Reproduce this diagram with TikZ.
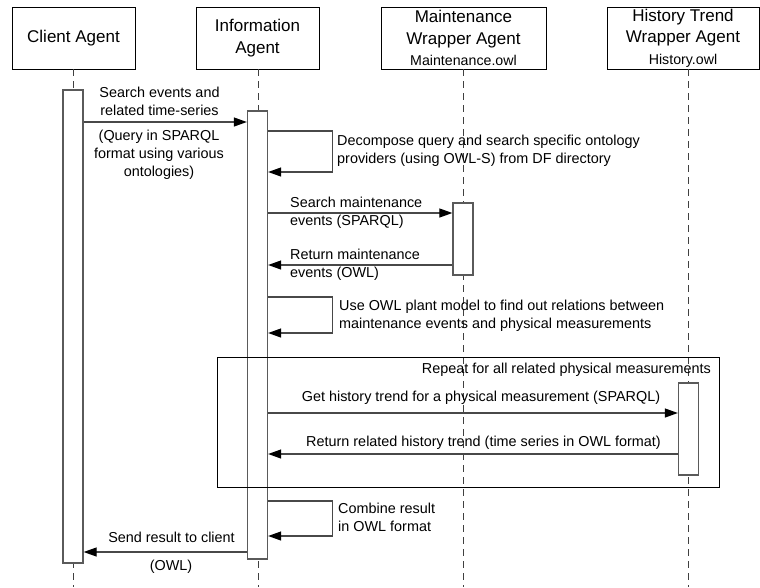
\documentclass[tikz,border=0pt]{standalone}
\usepackage{fontspec}
\setmainfont{Liberation Sans}
\usetikzlibrary{arrows.meta}
\definecolor{barline}{HTML}{5A5A5A}
\definecolor{msgline}{HTML}{484848}
\newcommand{\titlefont}{\fontsize{17}{21.5}\selectfont}
\newcommand{\msgfont}{\fontsize{14.4}{18}\selectfont}
\newcommand{\ontofont}{\fontsize{14.2}{18}\selectfont}
\tikzset{
  actor/.style={draw=black, line width=0.9pt, fill=white, align=center,
    font=\titlefont, inner sep=0pt, minimum height=62pt},
  lifeline/.style={draw=black!75, line width=1pt, dash pattern=on 7pt off 5pt},
  actbar/.style={draw=barline, line width=1.3pt, fill=white, inner sep=0pt,
    minimum width=20pt},
  msg/.style={draw=msgline, line width=1.2pt,
    -{Triangle[length=13pt,width=9pt,color=black]}},
  msgtext/.style={font=\msgfont, inner sep=0pt, text=black},
  loopframe/.style={draw=black, line width=0.9pt, inner sep=0pt},
}
\begin{document}
\begin{tikzpicture}[x=1pt,y=-1pt]
\useasboundingbox (0,0) rectangle (760,587);
\fill[white] (0,0) rectangle (760,587);

% actors
\node[actor, minimum width=123pt] (client) at (73.5,38) {Client Agent};
\node[actor, minimum width=123pt] (info) at (257.5,38) {Information\\Agent};
\node[actor, minimum width=165pt] (maint) at (463.5,38)
  {Maintenance\\Wrapper Agent\\\ontofont Maintenance.owl};
\node[actor, minimum width=152pt] (hist) at (683,38)
  {History Trend\\Wrapper Agent\\\ontofont History.owl};

% lifeline foot points
\coordinate (clientend) at (73,587);
\coordinate (infoend) at (258,587);
\coordinate (maintend) at (463,587);
\coordinate (histtop) at (688,69);
\coordinate (histend) at (688,587);

\draw[lifeline] (client.south -| clientend) -- (clientend);
\draw[lifeline] (info.south -| infoend) -- (infoend);
\draw[lifeline] (maint.south -| maintend) -- (maintend);
\draw[lifeline] (histtop) -- (histend);

% activation bars
\node[actbar, minimum height=473pt] (clientbar) at (73,326.5) {};
\node[actbar, minimum height=448pt] (infobar) at (257.5,335) {};
\node[actbar, minimum height=72pt] (maintbar) at (463,239) {};
\node[actbar, minimum height=92pt] (histbar) at (688.5,429) {};

% combined fragment
\node[loopframe, minimum width=502pt, minimum height=130pt] (loop) at (468,422) {};
\node[msgtext, anchor=east] (looplabel) at (711,370)
  {Repeat for all related physical measurements};

% query from the client
\draw[msg] (clientbar.east |- 0,122) -- (infobar.west |- 0,122);
\node[msgtext, align=center] (q1) at (159.5,101) {Search events and\\related time-series};
\node[msgtext, align=center] (q2) at (159,155)
  {(Query in SPARQL\\format using various\\ontologies)};

% decomposition
\draw[msg] (infobar.east |- 0,131) -- ++(64,0) -- ++(0,41) -- (infobar.east |- 0,172);
\node[msgtext, align=left, anchor=west] (dec) at (337,151)
  {Decompose query and search specific ontology\\providers (using OWL-S) from DF directory};

% maintenance wrapper
\draw[msg] (infobar.east |- 0,213) -- (maintbar.west |- 0,213);
\node[msgtext, align=left, anchor=west] (sm) at (290,213)
  {Search maintenance\\events (SPARQL)};
\draw[msg] (maintbar.west |- 0,265) -- (infobar.east |- 0,265);
\node[msgtext, align=left, anchor=west] (rm) at (290,264.5)
  {Return maintenance\\events (OWL)};

% plant model
\draw[msg] (infobar.east |- 0,297) -- ++(64,0) -- ++(0,36) -- (infobar.east |- 0,333);
\node[msgtext, align=left, anchor=west] (pm) at (339,316)
  {Use OWL plant model to find out relations between\\maintenance events and physical measurements};

% history trend wrapper
\draw[msg] (infobar.east |- 0,413) -- (histbar.west |- 0,413);
\node[msgtext] (gh) at (481,398)
  {Get history trend for a physical measurement (SPARQL)};
\draw[msg] (histbar.west |- 0,454) -- (infobar.east |- 0,454);
\node[msgtext] (rh) at (483.5,443)
  {Return related history trend (time series in OWL format)};

% combine
\draw[msg] (infobar.east |- 0,501) -- ++(64,0) -- ++(0,35) -- (infobar.east |- 0,536);
\node[msgtext, align=left, anchor=west] (cb) at (338,517)
  {Combine result\\in OWL format};

% reply to the client
\draw[msg] (infobar.west |- 0,552) -- (clientbar.east |- 0,552);
\node[msgtext] (sr) at (171.5,537) {Send result to client};
\node[msgtext] (owl) at (171,567) {(OWL)};
\end{tikzpicture}
\end{document}
